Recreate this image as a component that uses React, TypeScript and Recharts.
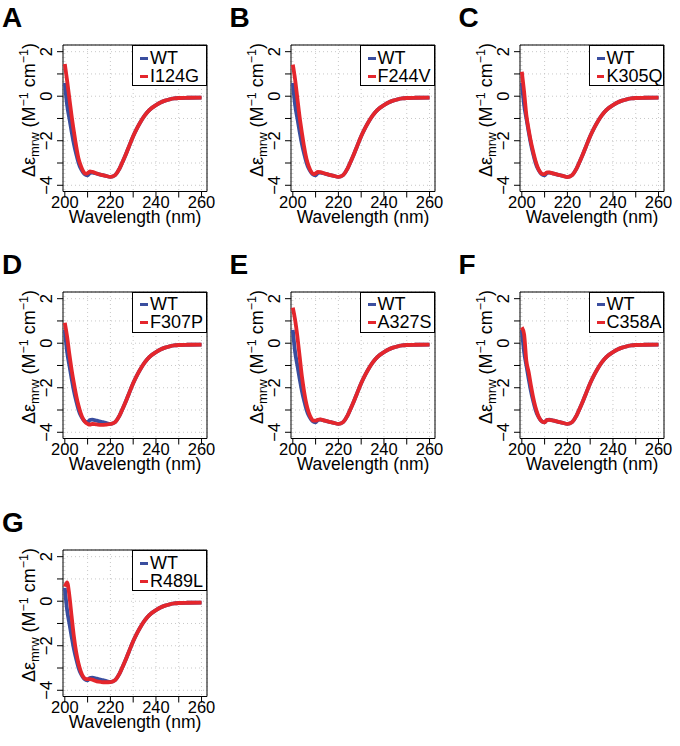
import React from 'react';
import { LineChart, Line, XAxis, YAxis, CartesianGrid, ReferenceArea, Legend, Label } from 'recharts';

const WAVELENGTHS = [200, 201, 202, 203, 204, 205, 206, 207, 208, 209, 210, 211, 212, 214, 216, 218, 220, 222, 224, 226, 228, 230, 232, 234, 236, 238, 240, 242, 244, 246, 248, 250, 254, 260];

const WT = [0.6, -0.4, -1.0, -1.6, -2.15, -2.6, -2.98, -3.25, -3.42, -3.52, -3.55, -3.45, -3.43, -3.48, -3.53, -3.58, -3.62, -3.55, -3.25, -2.8, -2.3, -1.8, -1.38, -1.02, -0.74, -0.54, -0.4, -0.28, -0.2, -0.14, -0.1, -0.08, -0.07, -0.06];

const I124G = [1.45, 0.7, -0.1, -0.9, -1.6, -2.25, -2.8, -3.12, -3.36, -3.48, -3.46, -3.38, -3.4, -3.47, -3.53, -3.58, -3.62, -3.55, -3.25, -2.8, -2.3, -1.8, -1.38, -1.02, -0.74, -0.54, -0.4, -0.28, -0.2, -0.14, -0.1, -0.08, -0.07, -0.06];
const F244V = [1.42, 0.75, -0.1, -0.95, -1.65, -2.3, -2.82, -3.15, -3.38, -3.5, -3.47, -3.4, -3.41, -3.47, -3.53, -3.58, -3.62, -3.55, -3.25, -2.8, -2.3, -1.8, -1.38, -1.02, -0.74, -0.54, -0.4, -0.28, -0.2, -0.14, -0.1, -0.08, -0.07, -0.06];
const K305Q = [1.1, 0.2, -0.85, -1.5, -2.05, -2.5, -2.9, -3.2, -3.4, -3.5, -3.5, -3.42, -3.42, -3.48, -3.53, -3.58, -3.63, -3.55, -3.25, -2.8, -2.3, -1.8, -1.38, -1.02, -0.74, -0.54, -0.4, -0.28, -0.2, -0.14, -0.1, -0.08, -0.07, -0.06];
const F307P = [0.92, 0.3, -0.5, -1.2, -1.8, -2.35, -2.8, -3.15, -3.4, -3.55, -3.62, -3.66, -3.62, -3.65, -3.67, -3.66, -3.63, -3.55, -3.25, -2.8, -2.3, -1.8, -1.38, -1.02, -0.74, -0.54, -0.4, -0.28, -0.2, -0.14, -0.1, -0.08, -0.07, -0.06];
const A327S = [1.6, 1.05, 0.3, -0.6, -1.5, -2.2, -2.75, -3.12, -3.36, -3.48, -3.48, -3.44, -3.42, -3.48, -3.53, -3.58, -3.62, -3.55, -3.25, -2.8, -2.3, -1.8, -1.38, -1.02, -0.74, -0.54, -0.4, -0.28, -0.2, -0.14, -0.1, -0.08, -0.07, -0.06];
const C358A = [0.72, 0.4, -0.8, -1.3, -1.9, -2.45, -2.88, -3.2, -3.42, -3.53, -3.55, -3.45, -3.44, -3.48, -3.53, -3.58, -3.62, -3.55, -3.25, -2.8, -2.3, -1.8, -1.38, -1.02, -0.74, -0.54, -0.4, -0.28, -0.2, -0.14, -0.1, -0.08, -0.07, -0.06];
const R489L = [0.65, 0.85, 0.25, -0.7, -1.6, -2.3, -2.8, -3.15, -3.38, -3.48, -3.5, -3.5, -3.52, -3.6, -3.63, -3.64, -3.63, -3.55, -3.25, -2.8, -2.3, -1.8, -1.38, -1.02, -0.74, -0.54, -0.4, -0.28, -0.2, -0.14, -0.1, -0.08, -0.07, -0.06];

const MUTANT_NAMES = ['I124G', 'F244V', 'K305Q', 'F307P', 'A327S', 'C358A', 'R489L'];
const MUTANT_VALUES = [I124G, F244V, K305Q, F307P, A327S, C358A, R489L];
const PANEL_LETTERS = ['A', 'B', 'C', 'D', 'E', 'F', 'G'];

const X_TICKS = [200, 210, 220, 230, 240, 250, 260];
const Y_TICKS = [-4, -3, -2, -1, 0, 1, 2];

const BLUE = '#3a4e9f';
const RED = '#e4262c';
const FONT = '"Liberation Sans", Arial, Helvetica, sans-serif';

// layout
const COL_X = [0, 227.5, 456.5];
const ROW_Y = [0, 246.5, 505];
const CHART_W = 227;
const CHART_H = 245;
const PLOT_LEFT = 63;
const PLOT_TOP = 45;
const PLOT_W = 144;
const PLOT_H = 146.5;

const XTick = (props: any) => {
  const { x, y, payload } = props;
  if (payload.value % 20 !== 0) return <g />;
  return (
    <text x={x} y={y + 8} textAnchor="middle" fontSize={16.5} fontFamily={FONT} fill="#000">
      {payload.value}
    </text>
  );
};

const YTick = (props: any) => {
  const { x, y, payload } = props;
  if (payload.value % 2 !== 0) return <g />;
  const label = payload.value < 0 ? '\u2212' + Math.abs(payload.value) : String(payload.value);
  const bx = x - 3;
  return (
    <text x={0} y={0} transform={`translate(${bx},${y}) rotate(-90)`} textAnchor="middle" fontSize={16.5} fontFamily={FONT} fill="#000">
      {label}
    </text>
  );
};

const YTitle = () => {
  const cx = 34.5;
  const cy = 110;
  return (
    <text x={0} y={0} transform={`translate(${cx},${cy}) rotate(-90)`} textAnchor="middle" fontSize={18} fontFamily={FONT} fill="#000">
      {'\u0394\u03b5'}
      <tspan dy={4} fontSize={13}>mrw</tspan>
      <tspan dy={-4}> (M</tspan>
      <tspan dy={-7} fontSize={12.5}>{'\u22121'}</tspan>
      <tspan dy={7}> cm</tspan>
      <tspan dy={-7} fontSize={12.5}>{'\u22121'}</tspan>
      <tspan dy={7}>)</tspan>
    </text>
  );
};

const XTitle = () => (
  <text x={PLOT_LEFT + PLOT_W / 2} y={223} textAnchor="middle" fontSize={17.5} fontFamily={FONT} fill="#000">
    Wavelength (nm)
  </text>
);

const makeLegend = (name: string) => () => (
  <div
    style={{
      width: 75,
      height: 41,
      border: '1px solid #000',
      boxSizing: 'border-box',
      background: '#fff',
      fontFamily: FONT,
      fontSize: 18,
      color: '#000',
      paddingLeft: 7,
      paddingTop: 3,
    }}
  >
    <div style={{ display: 'flex', alignItems: 'center', height: 18 }}>
      <span style={{ display: 'inline-block', width: 8, height: 3, background: BLUE, marginRight: 2 }} />
      <span>WT</span>
    </div>
    <div style={{ display: 'flex', alignItems: 'center', height: 18 }}>
      <span style={{ display: 'inline-block', width: 8, height: 3, background: RED, marginRight: 2 }} />
      <span>{name}</span>
    </div>
  </div>
);

const Panel = ({ idx }: { idx: number }) => {
  const mut = MUTANT_VALUES[idx];
  const data = WAVELENGTHS.map((wl, i) => ({ wl, wt: WT[i], mut: mut[i] }));
  const col = idx % 3;
  const row = Math.floor(idx / 3);
  return (
    <div style={{ position: 'absolute', left: COL_X[col], top: ROW_Y[row], width: CHART_W, height: CHART_H }}>
      <div
        style={{
          position: 'absolute',
          left: 2,
          top: 4,
          fontFamily: FONT,
          fontWeight: 'bold',
          fontSize: 28,
          lineHeight: '28px',
          color: '#000',
        }}
      >
        {PANEL_LETTERS[idx]}
      </div>
      <LineChart
        width={CHART_W}
        height={CHART_H}
        data={data}
        margin={{ top: PLOT_TOP, right: CHART_W - PLOT_LEFT - PLOT_W, bottom: CHART_H - PLOT_TOP - PLOT_H - 30, left: 0 }}
      >
        <CartesianGrid stroke="#c8c8c8" strokeDasharray="1 3" />
        <XAxis
          dataKey="wl"
          type="number"
          domain={[199.2, 262.4]}
          ticks={X_TICKS}
          allowDataOverflow
          axisLine={false}
          tickLine={{ stroke: '#000' }}
          tick={XTick}
          height={30}
          interval={0}
        >
          <Label content={XTitle} />
        </XAxis>
        <YAxis
          type="number"
          domain={[-4.28, 2.3]}
          ticks={Y_TICKS}
          allowDataOverflow
          axisLine={false}
          tickLine={{ stroke: '#000' }}
          tick={YTick}
          width={PLOT_LEFT}
          interval={0}
        >
          <Label content={YTitle} />
        </YAxis>
        <Line dataKey="wt" type="monotone" stroke={BLUE} strokeWidth={3.8} dot={false} isAnimationActive={false} />
        <Line dataKey="mut" type="monotone" stroke={RED} strokeWidth={3.8} dot={false} isAnimationActive={false} />
        <ReferenceArea x1={199.2} x2={262.4} y1={-4.28} y2={2.3} fill="none" stroke="#000" strokeWidth={1} ifOverflow="visible" />
        <Legend
          layout="vertical"
          align="center"
          verticalAlign="middle"
          content={makeLegend(MUTANT_NAMES[idx])}
          wrapperStyle={{ position: 'absolute', left: PLOT_LEFT + PLOT_W - 75, top: PLOT_TOP, width: 75, height: 41 }}
        />
      </LineChart>
    </div>
  );
};

export default function App() {
  return (
    <div style={{ position: 'absolute', left: 0, top: 0, width: 680, height: 746, background: '#fff' }}>
      {MUTANT_NAMES.map((_, i) => (
        <Panel key={i} idx={i} />
      ))}
    </div>
  );
}
